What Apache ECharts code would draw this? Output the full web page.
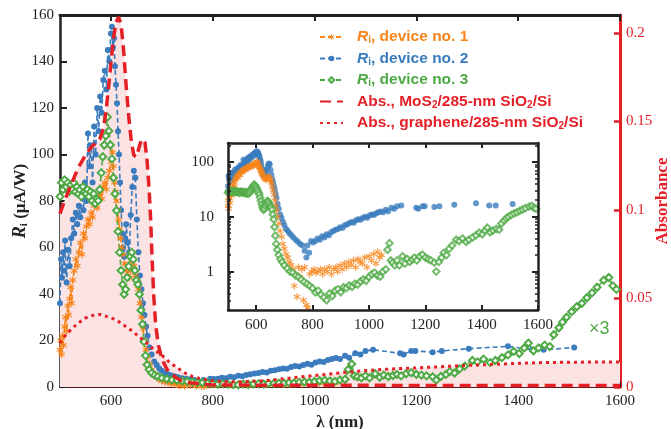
<!DOCTYPE html>
<html><head><meta charset="utf-8">
<script src="https://cdn.jsdelivr.net/npm/echarts@6/dist/echarts.min.js"></script>
<style>html,body{margin:0;padding:0;background:#fff}#c{width:671px;height:429px}</style>
</head><body><div id="c"></div>
<script>
// ---------- data ----------
// device no. 1 (orange)
const wl1 = [500,501,503,505,507,509,511,513,515,517,519,521,523,525,528,531,534,537,540,543,546,549,552,555,558,561,564,567,570,573,576,579,582,585,588,591,594,597,600,603,605,607,609,611,613,615,617,619,621,624,627,630,633,636,639,642,645,648,651,654,657,660,663,666,669,672,676,680,685,690,695,700,706,712,718,724,730,735,740,745,750,756,762,768,772,778,783,790,797,805,812,820,828,836,843,851,859,867,875,883,889,897,905,913,921,929,937,945,953,961,969,977,985,993,1001,1009,1017,1025,1031,1038,1045];
const r1 = [16,20,14,22,18,26,30,24,35,31,38,43,36,46,50,55,52,58,62,57,66,64,69,72,70,75,73,78,80,77,82,84,81,86,88,85,90,93,97,101,95,88,84,80,76,72,68,64,60,57,53,50,48,47,50,54,52,48,46,42,36,30,25,20,16,13,10,7.5,5.5,4.3,3.2,2.6,2.1,1.8,1.5,1.3,1.1,0.55,0.9,0.35,1.2,0.8,1.1,0.3,1.2,0.25,0.22,0.9,1.0,1.1,0.95,1.0,1.1,0.9,1.1,1.0,1.2,0.9,1.1,1.2,1.0,1.3,1.1,1.4,1.2,1.5,1.3,1.6,1.2,1.7,1.5,1.4,1.8,1.2,1.9,1.6,2.1,1.4,2.3,1.8,2.0];
// device no. 2 (blue)
const wl2 = [500,502,504,506,508,510,513,516,519,522,525,528,531,534,537,540,543,546,549,552,555,558,561,564,567,570,573,576,579,582,585,588,591,594,597,600,602,604,606,608,610,612,614,616,618,620,622,624,626,628,630,633,636,639,642,645,648,651,654,657,660,663,666,669,672,676,680,685,690,695,700,706,712,718,725,732,740,748,756,764,772,778,782,788,795,802,810,818,826,834,842,850,858,866,874,882,890,898,906,914,922,930,938,946,954,962,970,978,986,994,1002,1010,1018,1026,1034,1042,1050,1060,1068,1080,1090,1100,1115,1168,1175,1190,1198,1232,1250,1303,1380,1427,1450,1510];
const r2 = [36,55,47,58,50,63,45,59,52,64,72,66,75,70,78,73,86,76,88,80,109,95,104,88,112,100,120,110,125,118,132,136,128,145,140,152,155,146,150,138,130,122,110,100,88,76,66,60,56,64,70,62,58,74,86,93,90,72,58,48,42,36,31,26,22,17,14,11,9.5,8,7,6,5.5,5,4.6,4.2,3.8,3.5,3.2,3.0,2.4,1.8,3.0,2.2,3.6,3.4,3.6,4.0,3.8,4.4,4.2,4.8,4.6,5.2,5.5,5.8,6.0,6.4,6.2,7.0,7.2,7.6,8.0,7.8,8.6,9.0,8.8,9.5,10.0,9.6,10.5,11.0,10.8,11.6,12.0,12.5,12.0,13.4,12.6,14.5,14.0,15.5,16.0,14.5,14.0,15.5,15.5,15.0,15.5,16.5,17.5,16.0,16.0,17.0];
// device no. 3 (green) - as in the inset; the main panel shows it x3
const wl3 = [500,503,506,509,512,515,518,521,524,527,530,533,536,539,542,545,548,551,554,557,560,563,566,569,572,575,578,581,584,587,590,593,596,599,602,605,608,611,614,617,620,623,626,629,632,635,638,641,644,647,650,653,656,659,662,665,668,671,675,680,686,692,700,710,720,730,740,750,760,770,780,790,800,810,820,830,840,850,860,870,880,890,900,910,920,930,940,950,960,970,980,990,1000,1010,1020,1030,1040,1050,1060,1066,1073,1078,1084,1092,1100,1108,1119,1128,1136,1145,1154,1162,1170,1180,1190,1200,1210,1220,1232,1239,1248,1258,1266,1275,1285,1295,1310,1320,1332,1345,1355,1368,1380,1391,1402,1412,1420,1430,1440,1452,1462,1470,1480,1487,1495,1505,1515,1525,1535,1545,1555,1568,1578,1586,1593];
const r3 = [27.3,29.3,28.3,29.7,28.7,29.3,28,29,28.3,29.3,28,28.7,27.7,28.3,27.3,28.7,28,27.7,28.3,27.3,28,26.7,27.7,26.3,27,26.7,28.3,30.7,33,34.7,36,38.7,36.7,34.7,32.7,30,27.7,25.3,22.3,19.3,16.7,14.7,13.3,14,15.7,17.3,18.7,19.3,18.3,16.7,15.3,14.7,13.3,11,9,6.5,4.5,3.2,2.5,2.0,1.7,1.5,1.3,1.15,1.0,0.96,0.85,0.8,0.72,0.65,0.6,0.55,0.5,0.42,0.45,0.38,0.34,0.3,0.4,0.36,0.45,0.48,0.42,0.52,0.5,0.56,0.53,0.6,0.58,0.66,0.72,0.68,0.8,0.9,0.96,0.85,0.81,1.0,1.1,2.5,3.3,1.6,1.46,1.3,1.6,1.3,1.9,1.4,1.7,1.5,1.65,1.8,1.6,1.9,2.04,1.8,1.7,1.6,1.46,1.0,1.5,1.8,2.2,2.0,2.6,3.0,3.8,3.6,4.0,3.5,3.8,4.2,4.6,5.1,4.8,5.6,6.3,5.2,5.6,6.0,5.8,7.5,8.5,9.3,10,10.8,11.5,12,12.8,13.5,14.3,15.3,15.7,14.5,14];
const dev3Factor = 3;
// absorbance, MoS2 / 285-nm SiO2 / Si
const wlAbsM = [500,510,520,530,540,550,560,570,578,585,590,595,600,605,610,615,620,625,630,635,640,645,650,655,660,663,667,671,675,678,681,684,688,693,700,710,720,735,750,800,900,1000,1100,1200,1300,1400,1500,1600];
const absM = [0.098,0.106,0.113,0.120,0.126,0.131,0.135,0.138,0.140,0.146,0.155,0.168,0.183,0.197,0.206,0.209,0.205,0.190,0.170,0.153,0.139,0.131,0.130,0.135,0.140,0.141,0.138,0.128,0.112,0.095,0.072,0.052,0.035,0.024,0.016,0.010,0.007,0.004,0.0025,0.0012,0.001,0.001,0.001,0.0008,0.0008,0.0008,0.0008,0.0008];
// absorbance, graphene / 285-nm SiO2 / Si
const wlAbsG = [500,510,520,535,550,565,580,595,610,625,640,655,670,685,700,715,730,745,760,780,800,830,860,900,950,1000,1050,1100,1150,1200,1250,1300,1350,1400,1450,1500,1550,1600];
const absG = [0.025,0.029,0.032,0.036,0.039,0.0405,0.041,0.0395,0.038,0.035,0.032,0.0285,0.025,0.021,0.018,0.014,0.011,0.008,0.006,0.0045,0.0035,0.003,0.003,0.0035,0.005,0.0065,0.008,0.0093,0.0102,0.0108,0.0115,0.0122,0.0128,0.0134,0.0138,0.014,0.0141,0.0141];
// ticks
const xTicks = [600,800,1000,1200,1400,1600];
const absTicks = [0,0.05,0.1,0.15,0.2];
const logMajor = [1,10,100];
const logMinor = [0.2,0.3,0.4,0.5,0.6,0.7,0.8,0.9,2,3,4,5,6,7,8,9,20,30,40,50,60,70,80,90,200];

// ---------- helpers ----------
const zip = (a, b, f) => a.slice(0, Math.min(a.length, b.length)).map((x, i) => [x, f ? b[i] * f : b[i]]);
const ORANGE = '#f8841a', BLUE = '#3a7cbd', GREEN = '#4faa45', RED = '#e41f26', PINK = '#fbe3e3';
const SERIF = '"Liberation Serif", "DejaVu Serif", serif';
const SANS = '"Liberation Sans", Arial, sans-serif';
const STAR = 'path://M4.2,0h1.6v3.6l3.1,-1.8 0.8,1.4 -3.1,1.8 3.1,1.8 -0.8,1.4 -3.1,-1.8v3.6h-1.6v-3.6l-3.1,1.8 -0.8,-1.4 3.1,-1.8 -3.1,-1.8 0.8,-1.4 3.1,1.8z';
const plain = v => String(+(+v).toFixed(3));

const chart = echarts.init(document.getElementById('c'), null, {renderer: 'canvas'});

const tickLbl = {fontFamily: SERIF, fontSize: 15, color: '#222'};
function xAx(grid, pos, showLabel, lineColor, lw, tlen, margin) {
  return {
    type: 'value', gridIndex: grid, position: pos, min: 500, max: 1600,
    axisLine: {show: true, onZero: false, lineStyle: {color: lineColor, width: lw}},
    axisTick: {show: true, inside: true, length: tlen, customValues: xTicks, lineStyle: {color: '#222', width: 2}},
    axisLabel: {show: showLabel, customValues: xTicks, margin: margin, formatter: plain, ...tickLbl},
    splitLine: {show: false}
  };
}
const subStyle = c => ({fontFamily: SANS, fontWeight: 'bold', fontSize: 10, color: c, padding: [7, 0, 0, 0]});
const itStyle = c => ({fontFamily: SANS, fontWeight: 'bold', fontStyle: 'italic', fontSize: 15.5, color: c});

const option = {
  animation: false,
  backgroundColor: '#fff',
  grid: [
    {left: 60, top: 15, width: 560, height: 372, outerBoundsMode: 'none', containLabel: false},
    {left: 228, top: 143, width: 310, height: 167, outerBoundsMode: 'none', containLabel: false,
      show: true, backgroundColor: '#fff', borderWidth: 0, z: 3}
  ],
  xAxis: [
    Object.assign(xAx(0, 'bottom', true, '#5a1818', 2, 6, 7), {
      name: 'λ (nm)', nameLocation: 'middle', nameGap: 27,
      nameTextStyle: {fontFamily: SERIF, fontWeight: 'bold', fontSize: 17, color: '#222'}
    }),
    xAx(0, 'top', false, '#222', 3, 6, 7),
    Object.assign(xAx(1, 'bottom', true, '#222', 2.5, 5, 8), {z: 6}),
    Object.assign(xAx(1, 'top', false, '#222', 2.5, 5, 8), {z: 6})
  ],
  yAxis: [
    {
      type: 'value', gridIndex: 0, position: 'left', min: 0, max: 160, interval: 20,
      axisLine: {show: true, lineStyle: {color: '#222', width: 2.5}},
      axisTick: {show: true, inside: true, length: 7, lineStyle: {color: '#222', width: 2}},
      axisLabel: {margin: 6, ...tickLbl},
      splitLine: {show: false},
      name: '{it|R}{sub|i}{t| (μA/W)}', nameLocation: 'middle', nameGap: 30, nameMoveOverlap: false,
      nameTextStyle: {
        fontFamily: SERIF, fontWeight: 'bold', fontSize: 17, color: '#222',
        rich: {
          it: {fontFamily: SERIF, fontWeight: 'bold', fontStyle: 'italic', fontSize: 18, color: '#222'},
          sub: {fontFamily: SERIF, fontWeight: 'bold', fontSize: 11, color: '#222', padding: [8, 0, 0, 0]},
          t: {fontFamily: SERIF, fontWeight: 'bold', fontSize: 17, color: '#222'}
        }
      }
    },
    {
      type: 'value', gridIndex: 0, position: 'right', min: 0, max: 0.2102,
      axisLine: {show: true, lineStyle: {color: RED, width: 3}},
      axisTick: {show: true, inside: true, length: 6, customValues: absTicks, lineStyle: {color: RED, width: 2.5}},
      axisLabel: {customValues: absTicks, margin: 6, ...tickLbl, color: RED, formatter: plain},
      splitLine: {show: false},
      name: 'Absorbance', nameLocation: 'middle', nameGap: 34, nameMoveOverlap: false,
      nameTextStyle: {fontFamily: SERIF, fontWeight: 'bold', fontSize: 17, color: RED}
    },
    {
      type: 'log', logBase: 10, gridIndex: 1, position: 'left', min: 0.2, max: 220, z: 6,
      axisLine: {show: true, lineStyle: {color: '#222', width: 2.5}},
      axisTick: {show: true, inside: true, length: 6, customValues: logMajor, lineStyle: {color: '#222', width: 2}},
      axisLabel: {customValues: logMajor, margin: 14, formatter: plain, ...tickLbl},
      splitLine: {show: false}
    },
    {
      type: 'log', logBase: 10, gridIndex: 1, position: 'left', min: 0.2, max: 220, z: 6,
      axisLine: {show: false},
      axisTick: {show: true, inside: true, length: 3, customValues: logMinor, lineStyle: {color: '#222', width: 1.5}},
      axisLabel: {show: false}, splitLine: {show: false}
    },
    {
      type: 'log', logBase: 10, gridIndex: 1, position: 'right', min: 0.2, max: 220, z: 6,
      axisLine: {show: true, lineStyle: {color: '#222', width: 2.5}},
      axisTick: {show: true, inside: true, length: 6, customValues: logMajor, lineStyle: {color: '#222', width: 2}},
      axisLabel: {show: false}, splitLine: {show: false}
    },
    {
      type: 'log', logBase: 10, gridIndex: 1, position: 'right', min: 0.2, max: 220, z: 6,
      axisLine: {show: false},
      axisTick: {show: true, inside: true, length: 3, customValues: logMinor, lineStyle: {color: '#222', width: 1.5}},
      axisLabel: {show: false}, splitLine: {show: false}
    }
  ],
  legend: {
    orient: 'vertical', left: 314, top: 24, itemWidth: 23, itemHeight: 7, itemGap: 5,
    selectedMode: false,
    data: [
      {name: 'd1', textStyle: {color: ORANGE}},
      {name: 'd2', textStyle: {color: BLUE}},
      {name: 'd3', textStyle: {color: GREEN}},
      {name: 'mos2', textStyle: {color: RED}, itemStyle: {opacity: 0}},
      {name: 'gr', textStyle: {color: RED}, itemStyle: {opacity: 0}}
    ],
    formatter: function (n) {
      const m = {
        d1: '{g|}{io|R}{so|i}, device no. 1',
        d2: '{g|}{ib|R}{sb|i}, device no. 2',
        d3: '{g|}{ig|R}{sg|i}, device no. 3',
        mos2: '{g|}Abs., MoS{sr|2}/285-nm SiO{sr|2}/Si',
        gr: '{g|}Abs., graphene/285-nm SiO{sr|2}/Si'
      };
      return m[n];
    },
    textStyle: {
      fontFamily: SANS, fontWeight: 'bold', fontSize: 15.5,
      rich: {
        g: {width: 9},
        io: itStyle(ORANGE), ib: itStyle(BLUE), ig: itStyle(GREEN),
        so: subStyle(ORANGE), sb: subStyle(BLUE), sg: subStyle(GREEN), sr: subStyle(RED)
      }
    }
  },
  series: [
    // fills under the absorbance curves
    {name: 'fillM', type: 'line', xAxisIndex: 0, yAxisIndex: 1, data: zip(wlAbsM, absM), symbol: 'none', silent: true, z: 1,
      lineStyle: {width: 0}, areaStyle: {color: PINK, opacity: 1}},
    {name: 'fillG', type: 'line', xAxisIndex: 0, yAxisIndex: 1, data: zip(wlAbsG, absG), symbol: 'none', silent: true, z: 1,
      lineStyle: {width: 0}, areaStyle: {color: PINK, opacity: 1}},
    // main panel responsivity
    {name: 'd2', type: 'line', xAxisIndex: 0, yAxisIndex: 0, data: zip(wl2, r2), z: 2,
      symbol: 'circle', symbolSize: 6, itemStyle: {color: BLUE},
      lineStyle: {color: BLUE, width: 1.6, type: [5, 3]}},
    {name: 'd1', type: 'line', xAxisIndex: 0, yAxisIndex: 0, data: zip(wl1, r1), z: 2,
      symbol: STAR, symbolSize: 7, itemStyle: {color: ORANGE},
      lineStyle: {color: ORANGE, width: 1.6, type: [5, 3]}},
    {name: 'd3', type: 'line', xAxisIndex: 0, yAxisIndex: 0, data: zip(wl3, r3, dev3Factor), z: 2,
      symbol: 'emptyDiamond', symbolSize: 7, itemStyle: {color: GREEN, borderWidth: 1.2},
      lineStyle: {color: GREEN, width: 1.6, type: [5, 3]}},
    // absorbance lines
    {name: 'mos2', type: 'line', xAxisIndex: 0, yAxisIndex: 1, data: zip(wlAbsM, absM), z: 3, symbol: 'none',
      itemStyle: {color: RED}, lineStyle: {color: RED, width: 3.5, type: [11, 6]}},
    {name: 'gr', type: 'line', xAxisIndex: 0, yAxisIndex: 1, data: zip(wlAbsG, absG), z: 3, symbol: 'none',
      itemStyle: {color: RED}, lineStyle: {color: RED, width: 3, type: [3, 4]}},
    // inset (log scale)
    {name: 'i2', type: 'scatter', xAxisIndex: 2, yAxisIndex: 2, data: zip(wl2, r2), z: 4,
      symbol: 'circle', symbolSize: 6, itemStyle: {color: BLUE}},
    {name: 'i1', type: 'scatter', xAxisIndex: 2, yAxisIndex: 2, data: zip(wl1, r1), z: 4,
      symbol: STAR, symbolSize: 7, itemStyle: {color: ORANGE}},
    {name: 'i3', type: 'scatter', xAxisIndex: 2, yAxisIndex: 2, data: zip(wl3, r3), z: 4,
      symbol: 'emptyDiamond', symbolSize: 6.5, itemStyle: {color: GREEN, borderWidth: 1.2}}
  ]
};
chart.setOption(option);

const p = chart.convertToPixel({xAxisIndex: 0, yAxisIndex: 0}, [1557, 24.5]);
chart.setOption({
  graphic: [{type: 'text', left: p[0] - 9, top: p[1] - 10, z: 10,
    style: {text: '×3', fontFamily: SANS, fontSize: 18, fill: GREEN}}]
});
</script></body></html>
